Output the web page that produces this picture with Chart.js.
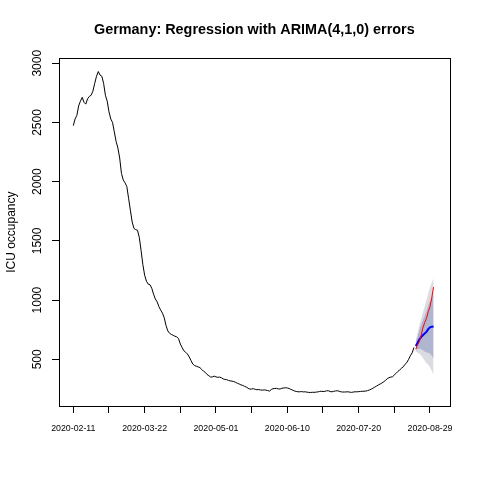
<!DOCTYPE html>
<html><head><meta charset="utf-8">
<script src="https://cdn.jsdelivr.net/npm/chart.js@4"></script>
<style>html,body{margin:0;padding:0;background:#fff}</style>
</head><body>
<canvas id="c" width="480" height="480" style="width:480px;height:480px"></canvas>
<script>
const chartTitle = 'Germany: Regression with ARIMA(4,1,0) errors';
const yAxisTitle = 'ICU occupancy';

// daily ICU occupancy, day 0 = 2020-02-11
const icuObserved = [
2473,2530,2560,2640,2680,2712,2670,2655,2700,2720,
2730,2765,2830,2890,2930,2900,2890,2830,2730,2680,
2590,2530,2500,2420,2340,2285,2200,2070,2015,1990,
1960,1860,1760,1660,1605,1595,1590,1530,1420,1300,
1210,1160,1135,1130,1100,1050,1010,985,945,915,
890,850,785,740,720,710,703,695,690,675,
630,600,572,560,545,520,490,460,448,442,
436,430,415,400,390,372,362,350,352,358,
352,348,350,345,335,330,328,322,318,316,
312,306,298,292,284,280,272,266,256,248,
250,252,247,243,245,241,240,242,240,236,
232,245,252,254,255,250,250,256,258,260,
258,254,246,240,233,229,226,226,228,225,
226,223,221,220,222,221,223,225,228,231,
228,230,234,235,228,226,230,233,235,231,
226,224,224,225,226,223,221,224,226,226,
227,229,230,231,232,236,241,248,256,265,
274,283,291,300,310,322,336,345,350,353,
368,382,398,410,425,437,458,472,500,530,
555,600
];

// forecast horizon (days following the observed series)
const forecastMean = [612,638,667,688,703,718,732,755,770,776,778];
const forecastHi80 = [642,691,745,791,830,869,907,954,992,1022,1048];
const forecastLo80 = [582,585,589,585,576,567,557,556,548,530,508];
const forecastHi95 = [657,718,785,843,895,946,997,1055,1106,1148,1186];
const forecastLo95 = [567,558,549,533,511,490,467,455,434,404,370];
const actualAfter  = [585,620,650,700,765,810,845,902,944,1020,1110];

const xTickDays = [0,20,40,60,80,100,120,140,160,180,200];
const xLabelDays = [0,40,80,120,160,200];
const xLabelTexts = ['2020-02-11','2020-03-22','2020-05-01','2020-06-10','2020-07-20','2020-08-29'];
const yTicks = [500,1000,1500,2000,2500,3000];

const obsPts = icuObserved.map((v,i)=>({x:i,y:v}));
const fcStart = icuObserved.length;
const toPts = arr => arr.map((v,i)=>({x:fcStart+i,y:v}));

Chart.defaults.font.family = '"Liberation Sans", Arial, Helvetica, sans-serif';
Chart.defaults.color = '#000';

const boxPlugin = {
  id:'box',
  afterDraw(chart){
    const {ctx, chartArea:a} = chart;
    ctx.save();
    ctx.strokeStyle = '#000';
    ctx.lineWidth = 1;
    const l = Math.round(a.left)+0.5, t = Math.round(a.top)+0.5;
    const r = Math.round(a.right)+0.5, b = Math.round(a.bottom)+0.5;
    ctx.strokeRect(l, t, r-l, b-t);
    ctx.restore();
  }
};

const noLine = 'rgba(0,0,0,0)';
const gridCfg = { drawOnChartArea:false, drawTicks:true, tickLength:7, color:'#000', lineWidth:1 };

new Chart(document.getElementById('c'), {
  type:'line',
  data:{
    datasets:[
      {data:toPts(forecastHi95), fill:'+1', backgroundColor:'rgb(219,219,226)', borderColor:noLine, borderWidth:0, pointRadius:0, order:6},
      {data:toPts(forecastLo95), fill:false, borderColor:noLine, borderWidth:0, pointRadius:0, order:6},
      {data:toPts(forecastHi80), fill:'+1', backgroundColor:'rgb(176,182,208)', borderColor:noLine, borderWidth:0, pointRadius:0, order:5},
      {data:toPts(forecastLo80), fill:false, borderColor:noLine, borderWidth:0, pointRadius:0, order:5},
      {data:obsPts, borderColor:'#000', borderWidth:1, pointRadius:0, fill:false, order:3},
      {data:toPts(forecastMean), borderColor:'#0000ff', borderWidth:2, pointRadius:0, fill:false, order:2},
      {data:toPts(actualAfter), borderColor:'#ff0000', borderWidth:1, pointRadius:0, fill:false, order:1}
    ]
  },
  options:{
    responsive:false,
    animation:false,
    layout:{padding:{top:0,right:30.3,bottom:0,left:0}},
    plugins:{
      legend:{display:false},
      tooltip:{enabled:false},
      title:{display:true, text:chartTitle, fullSize:false, color:'#000',
        font:{size:14.4, weight:'bold'}, padding:{top:20.9,bottom:20.1}}
    },
    scales:{
      x:{
        type:'linear', min:-8.02, max:211.05,
        afterBuildTicks: s => { s.ticks = xTickDays.map(v=>({value:v})); },
        afterFit: s => { s.height = 74; },
        ticks:{autoSkip:false, maxRotation:0, minRotation:0, padding:10.7, font:{size:8.8}, color:'#000',
          callback: v => { const k = xLabelDays.indexOf(v); return k>=0 ? xLabelTexts[k] : ''; }},
        grid:gridCfg,
        border:{display:false}
      },
      y:{
        type:'linear', min:106, max:3042,
        afterBuildTicks: s => { s.ticks = yTicks.map(v=>({value:v})); },
        afterFit: s => { s.width = 59; },
        ticks:{minRotation:90, maxRotation:90, crossAlign:'center', padding:1, font:{size:12}, color:'#000',
          callback: v => String(v)},
        grid:gridCfg,
        border:{display:false},
        title:{display:true, text:yAxisTitle, color:'#000', font:{size:12}, padding:{top:4,bottom:4}}
      }
    }
  },
  plugins:[boxPlugin]
});
</script>
</body></html>
